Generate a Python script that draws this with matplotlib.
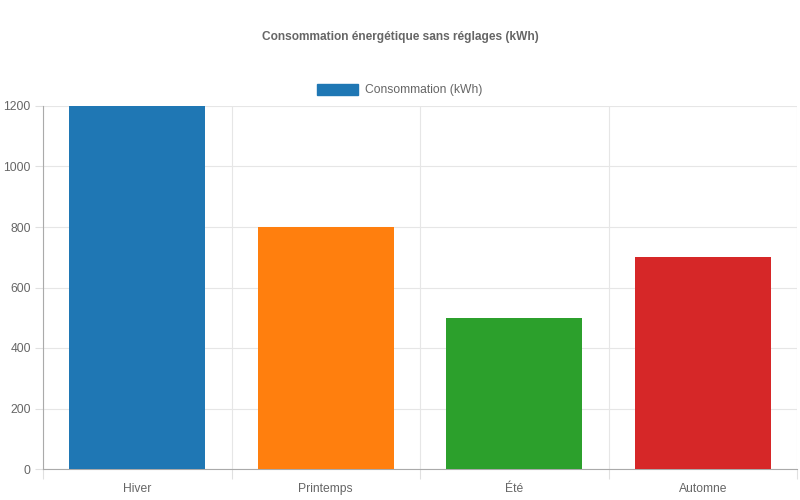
import numpy as np
import matplotlib.pyplot as plt
from matplotlib.patches import Patch

saisons = ['Hiver', 'Printemps', 'Été', 'Automne']
consommation = [1200, 800, 500, 700]
couleurs = ['#1f77b4', '#ff7f0e', '#2ca02c', '#d62728']
y_ticks = [0, 200, 400, 600, 800, 1000, 1200]

plt.rcParams['font.family'] = ['Liberation Sans', 'DejaVu Sans']

fig = plt.figure(figsize=(8, 5), dpi=100)
ax = fig.add_axes([43 / 800, 31 / 500, 754 / 800, 363 / 500])

x = np.arange(len(saisons))
ax.bar(x, consommation, width=0.72, color=couleurs, zorder=3)

ax.set_xlim(-0.5, len(saisons) - 0.5)
ax.set_ylim(0, 1200)
ax.set_yticks(y_ticks)
ax.set_xticks(x)
ax.set_xticklabels(saisons)

# category grid lines sit between the bars, Chart.js style
ax.set_xticks(np.arange(-0.5, len(saisons), 1), minor=True)
ax.grid(True, axis='y', color='#e6e6e6', lw=0.8, zorder=0)
ax.grid(True, axis='x', which='minor', color='#e6e6e6', lw=0.8, zorder=0)
ax.tick_params(axis='x', which='major', length=0, pad=10, labelsize=8.7, labelcolor='#666666')
ax.tick_params(axis='x', which='minor', length=7.2, color='#e0e0e0', width=0.8)
ax.tick_params(axis='y', length=5.8, color='#e0e0e0', width=0.8, pad=3, labelsize=8.7, labelcolor='#666666')

for side in ['top', 'right']:
    ax.spines[side].set_visible(False)
for side in ['left', 'bottom']:
    ax.spines[side].set_color('#aaaaaa')
    ax.spines[side].set_linewidth(0.8)

fig.text(0.5, 1 - 37 / 500, 'Consommation énergétique sans réglages (kWh)',
         ha='center', va='center', fontsize=8.6, fontweight='bold', color='#666666')

handle = Patch(facecolor='#1f77b4', edgecolor='#1f77b4', label='Consommation (kWh)')
fig.legend(handles=[handle], loc='center', bbox_to_anchor=(0.5, 1 - 90 / 500),
           frameon=False, fontsize=8.7, labelcolor='#666666',
           handlelength=3.4, handleheight=1.0, handletextpad=0.6)

plt.savefig('out.png')
